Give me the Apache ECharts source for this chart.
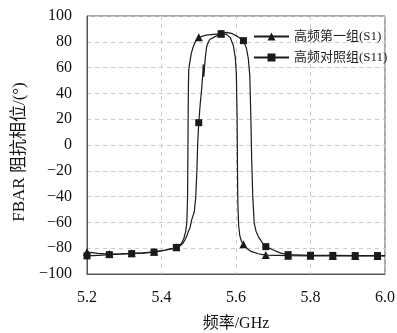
<!DOCTYPE html>
<html>
<head>
<meta charset="utf-8">
<script src="https://cdn.jsdelivr.net/npm/echarts@6/dist/echarts.min.js"></script>
<style>html,body{margin:0;padding:0;background:#fff}#c{width:397px;height:333px}</style>
</head>
<body>
<div id="c"></div>
<script>
var seriesNames = ['高频第一组(S1)', '高频对照组(S11)'];
var xTicks = [5.2, 5.4, 5.6, 5.8, 6.0];
var yTicks = [-100, -80, -60, -40, -20, 0, 20, 40, 60, 80, 100];
var markerFreqs = [5.20, 5.26, 5.32, 5.38, 5.44, 5.50, 5.56, 5.62, 5.68, 5.74, 5.80, 5.86, 5.92, 5.98];

var s1Freq = [5.20, 5.23, 5.26, 5.29, 5.32, 5.35, 5.38, 5.41, 5.43, 5.44, 5.45, 5.455, 5.46, 5.465, 5.468, 5.470, 5.471, 5.472, 5.473, 5.476, 5.480, 5.485, 5.49, 5.50, 5.52, 5.54, 5.56, 5.575, 5.585, 5.593, 5.598, 5.601, 5.603, 5.604, 5.605, 5.607, 5.610, 5.615, 5.62, 5.63, 5.642, 5.66, 5.68, 5.74, 5.80, 5.86, 5.92, 5.98, 6.00];
var s1Phase = [-83.0, -84.0, -84.5, -84.3, -84.0, -83.6, -82.8, -81.4, -80.2, -79.3, -77.6, -75.5, -72.5, -67, -60, -40, 0, 40, 58, 64, 71, 76, 79.5, 83.5, 85.2, 85.8, 86.2, 85.8, 83, 77, 68, 55, 20, -20, -45, -62, -70, -75, -77, -80.5, -82.7, -84.3, -85.3, -85.8, -85.9, -86, -86, -86, -86];

var s11Freq = [5.20, 5.23, 5.26, 5.29, 5.32, 5.35, 5.38, 5.41, 5.43, 5.44, 5.45, 5.458, 5.463, 5.468, 5.472, 5.4765, 5.478, 5.481, 5.484, 5.488, 5.492, 5.495, 5.497, 5.50, 5.504, 5.508, 5.511, 5.512, 5.5135, 5.515, 5.517, 5.521, 5.526, 5.530, 5.544, 5.56, 5.575, 5.59, 5.605, 5.62, 5.628, 5.633, 5.637, 5.640, 5.642, 5.645, 5.649, 5.654, 5.66, 5.67, 5.68, 5.70, 5.72, 5.74, 5.80, 5.86, 5.92, 5.98, 6.00];
var s11Phase = [-86.0, -85.5, -85.0, -84.6, -84.2, -83.8, -83.0, -81.6, -80.3, -79.4, -78.2, -76, -73.5, -70.6, -67, -64.3, -63.5, -58, -56.5, -51.7, -40, -20, 0, 17.3, 32, 44, 56, 62.5, 53, 58, 66, 76, 80, 82, 84, 86.3, 87.3, 86.3, 84, 80.9, 75, 67, 54, 20, -10, -40, -61, -67, -71, -75.5, -78.8, -81.4, -83.8, -85.0, -85.5, -85.6, -85.7, -85.7, -85.7];

var FONT = '"Liberation Serif", "Noto Sans CJK SC", serif';
function pairs(xs, ys) { return xs.map(function (x, i) { return [x, ys[i]]; }); }
function isMarker(x) { return markerFreqs.some(function (m) { return Math.abs(m - x) < 1e-6; }); }

var chart = echarts.init(document.getElementById('c'), null, { renderer: 'canvas' });
var lineColor = '#1a1a1a';
function mkSeries(name, xs, ys, symbol, size) {
  return {
    name: name, type: 'line', data: pairs(xs, ys),
    symbol: symbol, showAllSymbol: true,
    symbolSize: function (v) { return isMarker(v[0]) ? size : 0; },
    lineStyle: { color: lineColor, width: 1.2 },
    itemStyle: { color: lineColor, borderWidth: 0 },
    animation: false, z: 3
  };
}
chart.setOption({
  animation: false,
  textStyle: { fontFamily: FONT },
  grid: { left: 87, right: 12, top: 16, bottom: 59, show: true, borderColor: '#555', borderWidth: 1, containLabel: false, outerBoundsMode: 'none' },
  legend: {
    orient: 'vertical', left: 248, top: 25, itemWidth: 35, itemHeight: 10, itemGap: 8,
    textStyle: { fontFamily: FONT, fontSize: 13, color: '#222' },
    data: seriesNames
  },
  xAxis: {
    type: 'value', min: xTicks[0], max: xTicks[xTicks.length - 1], interval: 0.2,
    name: '频率/GHz', nameLocation: 'middle', nameGap: 42,
    nameTextStyle: { fontFamily: FONT, fontSize: 16, color: '#111' },
    axisLine: { onZero: false, lineStyle: { color: '#555' } },
    axisTick: { show: false },
    axisLabel: { fontFamily: FONT, fontSize: 16, color: '#111', margin: 16, formatter: function (v) { return v.toFixed(1); } },
    splitLine: { show: true, lineStyle: { color: '#ccc', type: [4, 4] } }
  },
  yAxis: {
    type: 'value', min: yTicks[0], max: yTicks[yTicks.length - 1], interval: 20,
    name: 'FBAR 阻抗相位/(°)', nameLocation: 'middle', nameGap: 57,
    nameTextStyle: { fontFamily: FONT, fontSize: 17, color: '#111', padding: [0, 14, 0, 0] },
    axisLine: { onZero: false, lineStyle: { color: '#555' } },
    axisTick: { show: false },
    axisLabel: { fontFamily: FONT, fontSize: 16, color: '#111', margin: 15, formatter: function (v) { return String(v).replace('-', '\u2212'); } },
    splitLine: { show: true, lineStyle: { color: '#ccc', type: [4, 4] } }
  },
  series: [
    mkSeries(seriesNames[0], s1Freq, s1Phase, 'triangle', 8),
    mkSeries(seriesNames[1], s11Freq, s11Phase, 'rect', 7)
  ]
});
</script>
</body>
</html>
